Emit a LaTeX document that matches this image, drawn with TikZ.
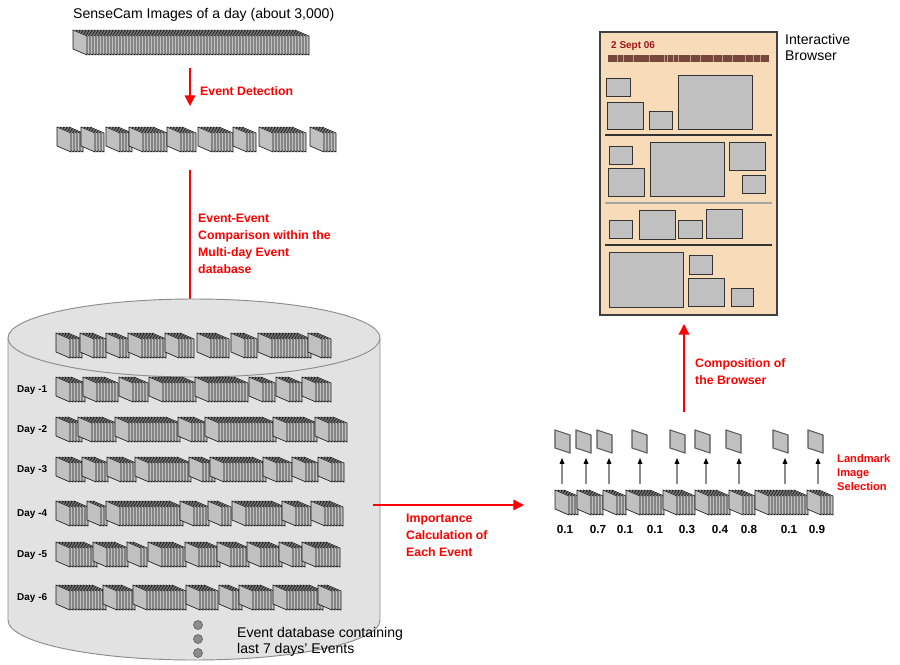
\documentclass[tikz,border=0pt]{standalone}
\usepackage{fontspec}
\setmainfont{Liberation Sans}
\usetikzlibrary{arrows.meta}
\definecolor{evred}{RGB}{255,0,0}
\definecolor{cardgray}{RGB}{192,192,192}
\definecolor{cylgray}{RGB}{226,226,226}
\definecolor{cyledge}{RGB}{140,140,140}
\definecolor{peach}{RGB}{248,220,186}
\definecolor{bardark}{RGB}{118,72,60}
\definecolor{datered}{RGB}{160,20,20}
\tikzset{
  card/.style={fill=cardgray, draw=black!90, line width=0.55pt},
  lmkcard/.style={fill=cardgray, draw=black!65, line width=0.9pt},
  picbox/.style={fill=cardgray, draw=black!80, line width=0.8pt},
  redarrow/.style={-{Triangle[width=9pt,length=9pt]}, draw=evred, line width=1.1pt},
  lift/.style={-{Triangle[width=4pt,length=5pt,color=black]}, draw=black!45, line width=0.9pt},
  redlabel/.style={text=evred, font=\bfseries\fontsize{10.5}{14.5}\selectfont,
    align=left, inner sep=0pt},
  smallred/.style={text=evred, font=\bfseries\fontsize{9.5}{12}\selectfont,
    align=left, inner sep=0pt},
  plainlabel/.style={font=\fontsize{12}{13.7}\selectfont, align=left, inner sep=0pt},
  daylabel/.style={font=\bfseries\fontsize{8.5}{10}\selectfont, inner sep=0pt, anchor=base west},
  score/.style={font=\bfseries\fontsize{10}{12}\selectfont, inner sep=0pt, anchor=base},
  dbdot/.style={fill=black!45, draw=black!65, line width=0.5pt}
}
% a stack of event images: left x, top y, length
\newcommand{\evstack}[3]{%
  \pgfmathtruncatemacro{\ncard}{max(0,(#3-14)/3)}%
  \foreach \k in {\ncard,...,0}{%
    \draw[card] ({#1+3*\k},#2) -- ++(14,6) -- ++(0,19) -- ++(-14,-6) -- cycle;}}
% a row of events: top y, list of left/right pairs
\newcommand{\evrow}[2]{%
  \foreach \a/\b in {#2}{\evstack{\a}{#1}{\b-\a}}}

\begin{document}
\begin{tikzpicture}[x=0.03cm, y=-0.03cm]
  \useasboundingbox (0,0) rectangle (900,664);

  % one day of images
  \node[plainlabel, anchor=base west] (daytitle) at (73,18) {SenseCam Images of a day (about 3,000)};
  \evstack{73}{30}{237}

  \coordinate (detA) at (190,68);
  \coordinate (detB) at (190,106);
  \draw[redarrow] (detA) -- (detB);
  \node[redlabel, anchor=base west] (detlabel) at (200,95) {Event Detection};

  % the day split into events
  \evrow{127}{57/83, 81/105, 106/132, 129/168, 167/197, 198/235, 233/258, 259/308, 310/337}

  \coordinate (cmpA) at (190,170);
  \coordinate (cmpB) at (190,318);
  \draw[redarrow] (cmpA) -- (cmpB);
  \node[redlabel, anchor=north west] (cmplabel) at (198,214)
    {Event-Event\\Comparison within the\\Multi-day Event\\database};

  % multi-day event database
  \draw[fill=cylgray, draw=cyledge, line width=0.8pt]
    (8,338) -- (8,620) arc[start angle=180, end angle=0, x radius=186, y radius=40] -- (380,338);
  \draw[fill=cylgray, draw=cyledge, line width=0.8pt] (194,338) ellipse[x radius=186, y radius=39];

  \evrow{333}{56/82, 80/108, 106/130, 128/167, 165/195, 197/230, 231/258, 258/312, 308/333}
  \evrow{377}{56/85, 83/120, 119/150, 149/197, 195/250, 249/277, 276/303, 302/333}
  \evrow{417}{56/83, 78/118, 115/182, 178/208, 205/277, 273/317, 315/347}
  \evrow{457}{56/85, 82/109, 107/137, 135/192, 189/217, 210/267, 263/293, 292/320, 318/345}
  \evrow{501}{56/90, 87/108, 106/183, 180/211, 208/233, 232/285, 282/312, 311/343}
  \evrow{542}{56/97, 93/130, 127/147, 148/187, 185/220, 217/250, 247/283, 279/305, 302/340}
  \evrow{585}{56/107, 103/135, 133/187, 186/220, 219/242, 239/275, 273/323, 318/343}

  \foreach \d/\ry in {1/377, 2/417, 3/457, 4/501, 5/542, 6/585}
    \node[daylabel] (day\d) at (17,\ry+15) {Day -\d};

  \foreach \dy [count=\i] in {625, 639, 653}
    \draw[dbdot] (198,\dy) circle[radius=4.5];
  \node[plainlabel, anchor=north west] (dblabel) at (237,627)
    {Event database containing\\last 7 days' Events};

  % importance of each event
  \coordinate (impA) at (373,505);
  \coordinate (impB) at (524,505);
  \draw[redarrow] (impA) -- (impB);
  \node[redlabel, anchor=north west] (implabel) at (406,514)
    {Importance\\Calculation of\\Each Event};

  \evrow{490}{555/580, 577/603, 603/628, 626/665, 663/695, 695/730, 729/755, 755/810, 807/833}

  \foreach \cx/\ax/\sc/\nx [count=\i] in {555/562/0.1/565, 576/586/0.7/598, 597/609/0.1/625,
      632/640/0.1/655, 670/677/0.3/687, 695/706/0.4/720, 726/739/0.8/749,
      773/785/0.1/789, 808/818/0.9/817}{
    \draw[lmkcard] (\cx,430) -- ++(15,5) -- ++(0,18) -- ++(-15,-5) -- cycle;
    \coordinate (evt\i) at (\ax,484);
    \coordinate (lmk\i) at (\ax,458);
    \draw[lift] (evt\i) -- (lmk\i);
    \node[score] (score\i) at (\nx,533) {\sc};
  }
  \node[smallred, anchor=north west] (lmklabel) at (837,454)
    {Landmark\\Image\\Selection};

  % composition of the browser
  \coordinate (brwA) at (684,412);
  \coordinate (brwB) at (684,324);
  \draw[redarrow] (brwA) -- (brwB);
  \node[redlabel, anchor=north west] (brwlabel) at (695,358)
    {Composition of\\the Browser};

  % interactive browser
  \draw[fill=peach, draw=black!75, line width=1.5pt] (600,32) rectangle (777,315);
  \node[font=\bfseries\fontsize{8.5}{10}\selectfont, text=datered, inner sep=0pt,
    anchor=base west] (date) at (611,48) {2 Sept 06};
  \fill[bardark] (608,55) rectangle (769,62);
  \foreach \sx in {617, 623, 633, 649, 664, 667, 673, 678, 690, 700, 713, 722, 732, 745, 753, 760}
    \draw[peach!55!bardark, line width=0.6pt] (\sx,55) -- (\sx,62);
  \draw[black!80, line width=0.9pt] (605,135) -- (772,135);
  \draw[black!35, line width=0.9pt] (605,203) -- (772,203);
  \draw[black!80, line width=0.9pt] (605,245) -- (772,245);
  \foreach \xa/\ya/\xb/\yb in {606/78/630/96, 607/102/643/129, 649/111/672/129, 678/75/752/129,
      609/146/632/164, 608/168/644/196, 650/142/724/196, 729/142/765/170, 742/175/765/193,
      609/220/632/238, 639/210/675/239, 678/220/702/238, 706/209/742/238,
      609/252/683/307, 689/255/712/274, 688/278/724/306, 731/288/753/306}
    \draw[picbox] (\xa,\ya) rectangle (\xb,\yb);
  \node[plainlabel, anchor=north west] (brwtitle) at (785,34) {Interactive\\Browser};
\end{tikzpicture}
\end{document}
